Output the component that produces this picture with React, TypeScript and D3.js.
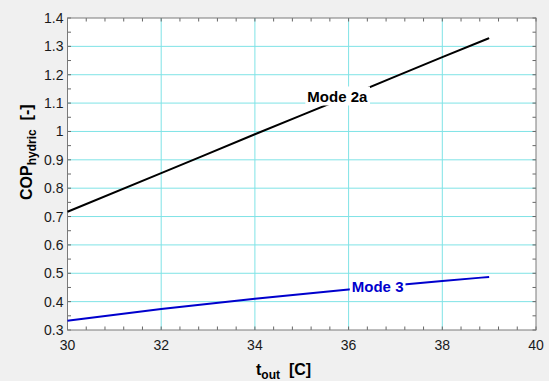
import * as d3 from 'd3';
import React, { useEffect, useRef } from 'react';

// outdoor temperature samples [C]
const tOut = [30, 32, 34, 36, 38, 39];
// COP hydric per mode
const mode2a = [0.717, 0.853, 0.99, 1.125, 1.262, 1.329];
const mode3 = [0.333, 0.374, 0.41, 0.443, 0.473, 0.487];

const xTicks = [30, 32, 34, 36, 38, 40];
const yTicks = [0.3, 0.4, 0.5, 0.6, 0.7, 0.8, 0.9, 1, 1.1, 1.2, 1.3, 1.4];

const seriesNames = ['Mode 2a', 'Mode 3'];
const seriesColors = ['#000000', '#0000cd'];
// label anchor in data units [t, cop]
const labelAt = [[35.76, 1.125], [36.62, 0.455]];

const W = 549, H = 381;

const App = () => {
  const ref = useRef<SVGSVGElement>(null);

  useEffect(() => {
    if (!ref.current) return;
    const svg = d3.select(ref.current);
    svg.selectAll('*').remove();

    const margin = { top: 18, right: 13, bottom: 51, left: 67.5 };
    const width = W - margin.left - margin.right;
    const height = H - margin.top - margin.bottom;
    const font = 'Arial, "Liberation Sans", sans-serif';

    svg.append('rect').attr('width', W).attr('height', H).attr('fill', '#f0f0f0');

    const g = svg.append('g').attr('transform', `translate(${margin.left},${margin.top})`);

    const x = d3.scaleLinear().domain([30, 40]).range([0, width]);
    const y = d3.scaleLinear().domain([0.3, 1.4]).range([height, 0]);

    g.append('rect').attr('width', width).attr('height', height).attr('fill', '#fff');

    // grid
    g.selectAll('.vg').data(xTicks.slice(1, -1)).join('line')
      .attr('x1', d => x(d)).attr('x2', d => x(d))
      .attr('y1', 0).attr('y2', height)
      .attr('stroke', '#7fe3e6').attr('stroke-width', 1);
    g.selectAll('.hg').data(yTicks.slice(1, -1)).join('line')
      .attr('y1', d => y(d)).attr('y2', d => y(d))
      .attr('x1', 0).attr('x2', width)
      .attr('stroke', '#7fe3e6').attr('stroke-width', 1);

    // inward ticks on all four sides
    const xMinor = d3.range(30, 40.001, 0.4);
    const yMinor = d3.range(0.3, 1.4001, 0.05);
    const tickLen = 3.5;
    const tickColor = '#666';
    g.selectAll('.xtb').data(xMinor).join('line')
      .attr('x1', d => x(d)).attr('x2', d => x(d))
      .attr('y1', height).attr('y2', height - tickLen).attr('stroke', tickColor);
    g.selectAll('.xtt').data(xMinor).join('line')
      .attr('x1', d => x(d)).attr('x2', d => x(d))
      .attr('y1', 0).attr('y2', tickLen).attr('stroke', tickColor);
    g.selectAll('.ytl').data(yMinor).join('line')
      .attr('y1', d => y(d)).attr('y2', d => y(d))
      .attr('x1', 0).attr('x2', tickLen).attr('stroke', tickColor);
    g.selectAll('.ytr').data(yMinor).join('line')
      .attr('y1', d => y(d)).attr('y2', d => y(d))
      .attr('x1', width).attr('x2', width - tickLen).attr('stroke', tickColor);

    g.append('rect').attr('width', width).attr('height', height)
      .attr('fill', 'none').attr('stroke', '#7a7a7a').attr('stroke-width', 1);

    // tick labels
    g.selectAll('.xl').data(xTicks).join('text')
      .attr('x', d => x(d)).attr('y', height + 19.5)
      .attr('text-anchor', 'middle')
      .attr('font-family', font).attr('font-size', 14).attr('fill', '#1a1a1a')
      .text(d => d3.format('')(d));
    g.selectAll('.yl').data(yTicks).join('text')
      .attr('x', -4).attr('y', d => y(d) + 5)
      .attr('text-anchor', 'end')
      .attr('font-family', font).attr('font-size', 14).attr('fill', '#1a1a1a')
      .text(d => d3.format('')(+d.toFixed(1)));

    // curves
    const line = d3.line<number>()
      .x((_, i) => x(tOut[i]))
      .y(d => y(d))
      .curve(d3.curveMonotoneX);
    [mode2a, mode3].forEach((vals, i) => {
      g.append('path').datum(vals)
        .attr('d', line)
        .attr('fill', 'none')
        .attr('stroke', seriesColors[i])
        .attr('stroke-width', 2);
    });

    // inline labels with white boxes
    seriesNames.forEach((name, i) => {
      const [lx, ly] = labelAt[i];
      const t = g.append('text')
        .attr('x', x(lx)).attr('y', y(ly) + 5.5)
        .attr('text-anchor', 'middle')
        .attr('font-family', font).attr('font-size', 15).attr('font-weight', 'bold')
        .attr('fill', seriesColors[i])
        .text(name);
      const bb = (t.node() as SVGTextElement).getBBox();
      g.insert('rect', () => t.node())
        .attr('x', bb.x - 2).attr('y', bb.y - 1)
        .attr('width', bb.width + 4).attr('height', bb.height + 2)
        .attr('fill', '#fff');
    });

    // axis titles
    const xt = svg.append('text')
      .attr('x', 256).attr('y', 375)
      .attr('font-family', font).attr('font-size', 16).attr('font-weight', 'bold')
      .attr('fill', '#000');
    xt.append('tspan').text('t');
    xt.append('tspan').attr('dy', 4).attr('font-size', 12).text('out');
    xt.append('tspan').attr('dy', -4).attr('xml:space', 'preserve').text('\u00a0\u00a0[C]');

    const yt = svg.append('text')
      .attr('transform', 'translate(32,200) rotate(-90)')
      .attr('font-family', font).attr('font-size', 16).attr('font-weight', 'bold')
      .attr('fill', '#000');
    yt.append('tspan').text('COP');
    yt.append('tspan').attr('dy', 4).attr('font-size', 12).text('hydric');
    yt.append('tspan').attr('dy', -4).text('\u00a0\u00a0[-]');
  }, []);

  return (
    <div style={{ position: 'fixed', left: 0, top: 0 }}>
      <svg ref={ref} width={W} height={H} style={{ display: 'block' }} />
    </div>
  );
};

export default App;
